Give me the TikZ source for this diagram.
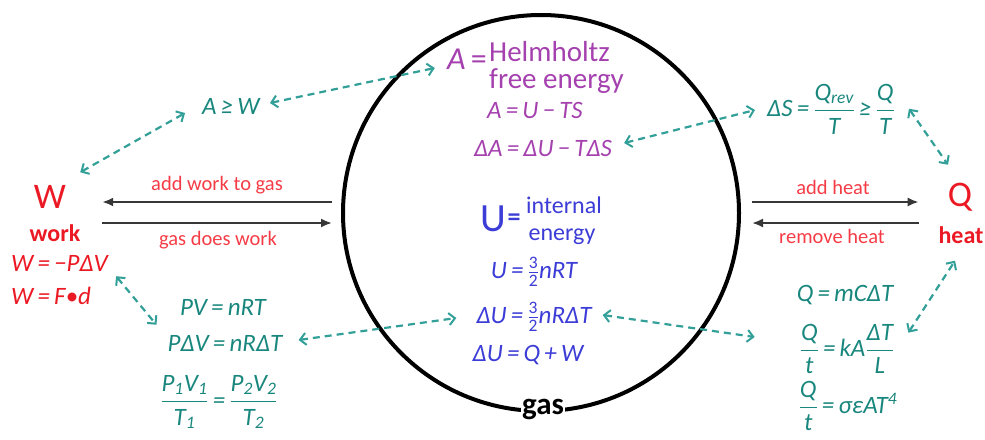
\documentclass[tikz,border=0pt]{standalone}
\usepackage{amsmath}
\usepackage{fontspec}
\setmainfont{Carlito}
\usetikzlibrary{arrows.meta,calc}
\definecolor{redA}{RGB}{235,25,35}
\definecolor{redL}{RGB}{245,60,70}
\definecolor{tealT}{RGB}{25,135,125}
\definecolor{tealD}{RGB}{50,160,152}
\definecolor{purp}{RGB}{165,65,175}
\definecolor{blu}{RGB}{60,60,215}
\definecolor{dgray}{RGB}{55,55,55}
\newcommand\fs[1]{\fontsize{#1}{#1}\selectfont}
\newcommand\fq[2]{$\dfrac{\text{#1}}{\text{#2}}$}
\newcommand\hf{$\tfrac{\text{\upshape 3}}{\text{\upshape 2}}$}
\tikzset{
 lbl/.style={text=redL, font=\fs{20.5}, inner sep=0pt},
 frm/.style={font=\fs{25}\itshape, inner sep=0pt},
 tf/.style={frm, text=tealT},
 pf/.style={frm, text=purp},
 bf/.style={frm, text=blu},
 rf/.style={frm, text=redA},
 dsh/.style={draw=tealD, line width=2.2pt, dash pattern=on 7pt off 5pt,
   {Straight Barb[length=6pt,width=12pt,line width=2pt]}-{Straight Barb[length=6pt,width=12pt,line width=2pt]}},
 blk/.style={draw=dgray, line width=2pt, -{Latex[length=11pt,width=9pt]}},
}
\begin{document}
\begin{tikzpicture}[x=1pt,y=-1pt]
\useasboundingbox (0,0) rectangle (985,439);
% gas circle
\node[circle, draw, line width=4pt, minimum size=396pt, inner sep=0pt, outer sep=0pt] (gasc) at (541,213) {};
\node[fill=white, font=\fs{31}\bfseries, inner sep=1pt] (gas) at (543,409) {gas};
% centre texts
\node[anchor=east, text=purp, font=\fs{32}, inner sep=0pt] (aeq) at (487,59) {\textit{A}\,=};
\node[anchor=west, align=left, text=purp, font=\fontsize{29}{27}\selectfont, inner sep=0pt] (helm) at (489,67) {Helmholtz\\free energy};
\node[pf] (aus) at (535,110) {A\,=\,U\,−\,TS};
\node[pf] (daus) at (543,148) {ΔA\,=\,ΔU\,−\,TΔS};
\node[text=blu, font=\fs{40}, inner sep=0pt] (ubig) at (493,219) {U};
\node[text=blu, font=\fs{26}\bfseries, inner sep=0pt] (ueq) at (514,220) {=};
\node[text=blu, font=\fs{24}, inner sep=0pt] (intl) at (564,205) {internal};
\node[text=blu, font=\fs{24}, inner sep=0pt] (ener) at (562,237) {energy};
\node[bf] (u32) at (534,272) {U\,=\,\hf nRT};
\node[bf] (du32) at (534,317) {ΔU\,=\,\hf nRΔT};
\node[bf] (duqw) at (528,355) {ΔU\,=\,Q\,+\,W};
% left
\node[text=redA, font=\fs{36}, inner sep=0pt] (W) at (50,197) {W};
\node[text=redA, font=\fs{24}\bfseries, inner sep=0pt] (work) at (55,233) {work};
\node[rf, anchor=west] (wpdv) at (11,263) {W\,=\,−PΔV};
\node[rf, anchor=west] (wfd) at (11,296) {W\,=\,F•d};
\node[lbl] (addw) at (217,185) {add work to gas};
\node[lbl] (gdw) at (218,240) {gas does work};
\node[tf] (agew) at (231,106) {A\,≥\,W};
\node[tf] (pv) at (223,307) {PV\,=\,nRT};
\node[tf] (pdv) at (225,343) {PΔV\,=\,nRΔT};
\node[tf] (gasl) at (219,402) {\fq{P\textsubscript{1}V\textsubscript{1}}{T\textsubscript{1}}\,=\,\fq{P\textsubscript{2}V\textsubscript{2}}{T\textsubscript{2}}};
% right
\node[text=redA, font=\fs{36}, inner sep=0pt] (Q) at (960,197) {Q};
\node[text=redA, font=\fs{24}\bfseries, inner sep=0pt] (heat) at (961,235) {heat};
\node[lbl] (addh) at (833,187) {add heat};
\node[lbl] (remh) at (832,236) {remove heat};
\node[tf] (ds) at (831,109) {ΔS\,=\,\fq{Q\textsubscript{rev}}{T}\,≥\,\fq{Q}{T}};
\node[tf] (qmc) at (845,295) {Q\,=\,mCΔT};
\node[tf] (qtka) at (847,349) {\fq{Q}{t}\,=\,kA\fq{ΔT}{L}};
\node[tf] (qts) at (848,406) {\fq{Q}{t}\,=\,σεAT\textsuperscript{4}};
% solid arrows
\draw[blk] ($(gasc.west)+(-11,-11)$) -- ($(W.east)+(36,5)$);
\draw[blk] ($(W.east)+(36,26)$) -- ($(gasc.west)+(-11,10)$);
\draw[blk] ($(gasc.east)+(13,-11)$) -- ($(Q.west)+(-29,5)$);
\draw[blk] ($(Q.west)+(-29,26)$) -- ($(gasc.east)+(13,10)$);
% dashed arrows
\draw[dsh] ($(agew.east)+(10,-3)$) -- ($(aeq.west)+(-12,9)$);
\draw[dsh] ($(W.north east)+(14,-13)$) -- ($(agew.west)+(-17,7)$);
\draw[dsh] ($(wpdv.south east)+(8,5)$) -- ($(pdv.north west)+(-11,-10)$);
\draw[dsh] ($(pdv.east)+(16,-3)$) -- ($(du32.west)+(-20,1)$);
\draw[dsh] ($(du32.east)+(11,-2)$) -- ($(qtka.west)+(-45,-12)$);
\draw[dsh] ($(qtka.north east)+(14,9)$) -- ($(heat.south)+(-6,17)$);
\draw[dsh] ($(ds.north east)+(14,25)$) -- ($(Q.north)+(-12,-18)$);
\draw[dsh] ($(daus.east)+(12,-5)$) -- ($(ds.west)+(-12,1)$);
\end{tikzpicture}
\end{document}
